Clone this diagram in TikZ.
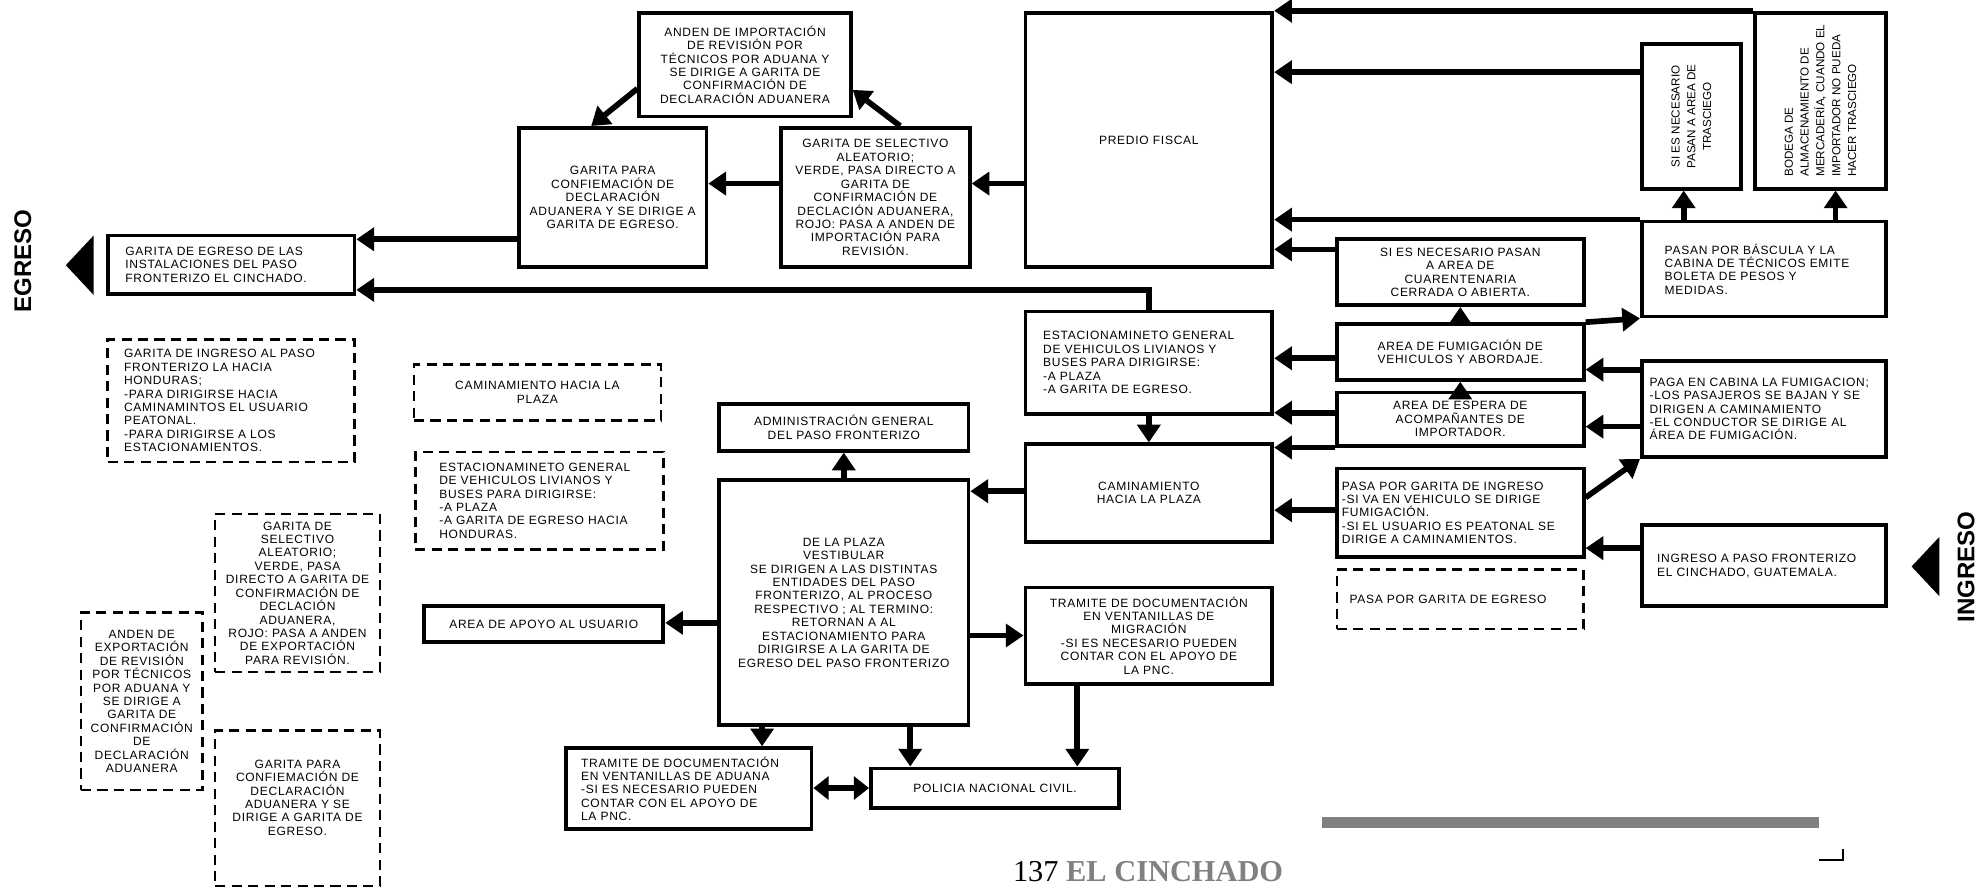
\documentclass[tikz,border=0pt]{standalone}
\usepackage{fontspec}
\setmainfont{Liberation Sans}
\newfontfamily\cajafont{Liberation Sans}[LetterSpace=6]
\newfontfamily\giradafont{Liberation Sans}
\newfontfamily\piefont{Liberation Serif}
\usetikzlibrary{arrows.meta}
\definecolor{gris}{HTML}{808080}

\begin{document}
\begin{tikzpicture}[x=1pt, y=-1pt,
	caja/.style={draw, line width=3pt, inner sep=2pt, align=center, font=\cajafont\fontsize{9.5}{10.6}\selectfont},
	cajaizq/.style={caja, align=left},
	cajapunto/.style={caja, line width=2pt, dash pattern=on 8pt off 5pt},
	girada/.style={caja, rotate=90, font=\giradafont\fontsize{9.2}{12.5}\selectfont},
	flecha/.style={line width=4.5pt, -{Triangle[length=14pt,width=18pt]}},
	doble/.style={line width=4.5pt, {Triangle[length=12pt,width=18pt]}-{Triangle[length=12pt,width=18pt]}},
	lema/.style={rotate=90, font=\giradafont\bfseries\fontsize{19}{19}\selectfont}]
	\fill[white] (0,0) rectangle (1568,701);
	\useasboundingbox (0,0) rectangle (1568,701);

	\node[caja, minimum width=167pt, minimum height=82pt] (anden) at (588.5,51) {ANDEN DE IMPORTACIÓN\\DE REVISIÓN POR\\TÉCNICOS POR ADUANA Y\\SE DIRIGE A GARITA DE\\CONFIRMACIÓN DE\\DECLARACIÓN ADUANERA};
	\node[caja, minimum width=148pt, minimum height=110pt] (conf) at (484,156) {GARITA PARA\\CONFIEMACIÓN DE\\DECLARACIÓN\\ADUANERA Y SE DIRIGE A\\GARITA DE EGRESO.};
	\node[caja, minimum width=149pt, minimum height=110pt] (sel) at (691.5,156) {GARITA DE SELECTIVO\\ALEATORIO;\\VERDE, PASA DIRECTO A\\GARITA DE\\CONFIRMACIÓN DE\\DECLACIÓN ADUANERA,\\ROJO: PASA A ANDEN DE\\IMPORTACIÓN PARA\\REVISIÓN.};
	\node[caja, minimum width=195pt, minimum height=201pt] (predio) at (907.5,110.5) {PREDIO FISCAL};
	\node[girada, minimum width=114pt, minimum height=78pt] (tras) at (1336,92) {SI ES NECESARIO\\PASAN A AREA DE\\TRASCIEGO};
	\node[girada, align=left, minimum width=139pt, minimum height=104pt] (bodega) at (1438,79.5) {BODEGA DE\\ALMACENAMIENTO DE\\MERCADERÍA, CUANDO EL\\IMPORTADOR NO PUEDA\\HACER TRASCIEGO};
	\node[cajaizq, text width=157pt, inner xsep=18pt, minimum height=75pt] (basc) at (1393.5,212.5) {PASAN POR BÁSCULA Y LA\\CABINA DE TÉCNICOS EMITE\\BOLETA DE PESOS Y\\MEDIDAS.};
	\node[caja, minimum width=195pt, minimum height=52pt] (cuar) at (1153.5,215) {SI ES NECESARIO PASAN\\A AREA DE\\CUARENTENARIA\\CERRADA O ABIERTA.};
	\node[cajaizq, text width=167pt, inner xsep=14pt, minimum height=46pt] (egr) at (182.5,209) {GARITA DE EGRESO DE LAS\\INSTALACIONES DEL PASO\\FRONTERIZO EL CINCHADO.};

	\node[cajaizq, text width=167pt, inner xsep=14pt, minimum height=81pt] (estac) at (907.5,286.5) {ESTACIONAMINETO GENERAL\\DE VEHICULOS LIVIANOS Y\\BUSES PARA DIRIGIRSE:\\-A PLAZA\\-A GARITA DE EGRESO.};
	\node[caja, minimum width=195pt, minimum height=44pt] (fumig) at (1153.5,278) {AREA DE FUMIGACIÓN DE\\VEHICULOS Y ABORDAJE.};
	\node[caja, minimum width=195pt, minimum height=42pt] (espera) at (1153.5,331) {AREA DE ESPERA DE\\ACOMPAÑANTES DE\\IMPORTADOR.};
	\node[cajaizq, text width=181pt, inner xsep=6pt, minimum height=76pt] (paga) at (1393.5,323) {PAGA EN CABINA LA FUMIGACION;\\-LOS PASAJEROS SE BAJAN Y SE\\DIRIGEN A CAMINAMIENTO\\-EL CONDUCTOR SE DIRIGE AL\\ÁREA DE FUMIGACIÓN.};
	\node[caja, minimum width=195pt, minimum height=77pt] (camin) at (907.5,389.5) {CAMINAMIENTO\\HACIA LA PLAZA};
	\node[cajaizq, text width=187pt, inner xsep=4pt, minimum height=70pt] (ingr) at (1153.5,405) {PASA POR GARITA DE INGRESO\\-SI VA EN VEHICULO SE DIRIGE\\FUMIGACIÓN.\\-SI EL USUARIO ES PEATONAL SE\\DIRIGE A CAMINAMIENTOS.};
	\node[cajaizq, text width=169pt, inner xsep=12pt, minimum height=64pt] (ingfr) at (1393.5,447) {INGRESO A PASO FRONTERIZO\\EL CINCHADO, GUATEMALA.};
	\node[cajapunto, align=left, text width=175pt, inner xsep=10pt, minimum height=47pt] (egrd) at (1153.5,473.5) {PASA POR GARITA DE EGRESO};

	\node[cajapunto, align=left, text width=169pt, inner xsep=13pt, minimum height=97pt] (gid) at (182.5,316.5) {GARITA DE INGRESO AL PASO\\FRONTERIZO LA HACIA\\HONDURAS;\\-PARA DIRIGIRSE HACIA\\CAMINAMINTOS EL USUARIO\\PEATONAL.\\-PARA DIRIGIRSE A LOS\\ESTACIONAMIENTOS.};
	\node[cajapunto, minimum width=195pt, minimum height=44pt] (camd) at (424.5,310) {CAMINAMIENTO HACIA LA\\PLAZA};
	\node[cajapunto, align=left, text width=158pt, inner xsep=19pt, minimum height=77pt] (estd) at (426,395.5) {ESTACIONAMINETO GENERAL\\DE VEHICULOS LIVIANOS Y\\BUSES PARA DIRIGIRSE:\\-A PLAZA\\-A GARITA DE EGRESO HACIA\\HONDURAS.};
	\node[cajapunto, minimum width=130pt, minimum height=125pt] (seld) at (235,468.5) {GARITA DE\\SELECTIVO\\ALEATORIO;\\VERDE, PASA\\DIRECTO A GARITA DE\\CONFIRMACIÓN DE\\DECLACIÓN\\ADUANERA,\\ROJO: PASA A ANDEN\\DE EXPORTACIÓN\\PARA REVISIÓN.};
	\node[cajapunto, minimum width=96pt, minimum height=140pt] (andd) at (112,554) {ANDEN DE\\EXPORTACIÓN\\DE REVISIÓN\\POR TÉCNICOS\\POR ADUANA Y\\SE DIRIGE A\\GARITA DE\\CONFIRMACIÓN\\DE\\DECLARACIÓN\\ADUANERA};
	\node[cajapunto, minimum width=130pt, minimum height=123pt, text depth=17pt] (confd) at (235,638.5) {GARITA PARA\\CONFIEMACIÓN DE\\DECLARACIÓN\\ADUANERA Y SE\\DIRIGE A GARITA DE\\EGRESO.};

	\node[caja, minimum width=197pt, minimum height=37pt] (admin) at (666.5,337.5) {ADMINISTRACIÓN GENERAL\\DEL PASO FRONTERIZO};
	\node[caja, minimum width=197pt, minimum height=194pt] (plaza) at (666.5,476) {DE LA PLAZA\\VESTIBULAR\\SE DIRIGEN A LAS DISTINTAS\\ENTIDADES DEL PASO\\FRONTERIZO, AL PROCESO\\RESPECTIVO ; AL TERMINO:\\RETORNAN A AL\\ESTACIONAMIENTO PARA\\DIRIGIRSE A LA GARITA DE\\EGRESO DEL PASO FRONTERIZO};
	\node[caja, minimum width=189pt, minimum height=28pt] (apoyo) at (429.5,493) {AREA DE APOYO AL USUARIO};
	\node[caja, minimum width=195pt, minimum height=76pt] (migr) at (907.5,502) {TRAMITE DE DOCUMENTACIÓN\\EN VENTANILLAS DE\\MIGRACIÓN\\-SI ES NECESARIO PUEDEN\\CONTAR CON EL APOYO DE\\LA PNC.};
	\node[cajaizq, text width=170pt, inner xsep=12pt, minimum height=64pt] (adu) at (544,623) {TRAMITE DE DOCUMENTACIÓN\\EN VENTANILLAS DE ADUANA\\-SI ES NECESARIO PUEDEN\\CONTAR CON EL APOYO DE\\LA PNC.};
	\node[caja, minimum width=196pt, minimum height=31pt] (pnc) at (786,622.5) {POLICIA NACIONAL CIVIL.};

	\node[lema] (egreso) at (18,206) {EGRESO};
	\node[lema] (ingreso) at (1553,448) {INGRESO};
	\fill (52,209.5) -- (74,186) -- (74,233) -- cycle;
	\fill (1510,447.5) -- (1532,424) -- (1532,471) -- cycle;

	\draw[flecha] (predio.west |- 0,145) -- (sel.east |- 0,145);
	\draw[flecha] (sel.west |- 0,145) -- (conf.east |- 0,145);
	\draw[flecha] (711,0 |- sel.north) -- (anden.east |- 0,71);
	\draw[flecha] (anden.west |- 0,70) -- (467,0 |- conf.north);
	\draw[flecha] (conf.west |- 0,189) -- (egr.east |- 0,189);
	\draw[flecha] (estac.north) -- (estac.north |- 0,229) -- (egr.east |- 0,229);
	\draw[flecha] (bodega.north east) -- (predio.north east);
	\draw[flecha] (tras.north |- 0,57) -- (predio.east |- 0,57);
	\draw[flecha] (basc.north west) -- (predio.east |- basc.north west);
	\draw[flecha] (cuar.west |- 0,197) -- (predio.east |- 0,197);
	\draw[flecha] (1330,0 |- basc.north) -- (1330,0 |- tras.west);
	\draw[flecha] (1450,0 |- basc.north) -- (1450,0 |- bodega.west);
	\draw[flecha] (cuar.south |- fumig.north) -- (cuar.south);
	\draw[flecha] (fumig.north east) -- (basc.south west);
	\draw[flecha] (fumig.west |- 0,283) -- (estac.east |- 0,283);
	\draw[flecha] (espera.north) -- (fumig.south);
	\draw[flecha] (espera.west |- 0,326) -- (estac.east |- 0,326);
	\draw[flecha] (espera.south west) -- (camin.east |- espera.south west);
	\draw[flecha] (paga.west |- 0,292) -- (fumig.east |- 0,292);
	\draw[flecha] (paga.west |- 0,337) -- (espera.east |- 0,337);
	\draw[flecha] (ingr.east |- 0,393) -- (paga.south west);
	\draw[flecha] (ingfr.west |- 0,433) -- (ingr.east |- 0,433);
	\draw[flecha] (ingr.west |- 0,403) -- (camin.east |- 0,403);
	\draw[flecha] (estac.south) -- (camin.north);
	\draw[flecha] (camin.west |- 0,388) -- (plaza.east |- 0,388);
	\draw[flecha] (plaza.north) -- (admin.south);
	\draw[flecha] (plaza.west |- 0,492) -- (apoyo.east |- 0,492);
	\draw[flecha] (plaza.east |- 0,502) -- (migr.west |- 0,502);
	\draw[flecha] (602,0 |- plaza.south) -- (602,0 |- adu.north);
	\draw[flecha] (719,0 |- plaza.south) -- (719,0 |- pnc.north);
	\draw[flecha] (851,0 |- migr.south) -- (851,0 |- pnc.north);
	\draw[doble] (adu.east |- 0,622.5) -- (pnc.west |- 0,622.5);

	\fill[gris] (1044,645) rectangle (1437,654);
	\draw[line width=1.5pt] (1437,679) -- (1456,679) -- (1456,671);
	\node[anchor=base west, inner sep=0pt, font=\piefont\fontsize{24}{26}\selectfont] (pie) at (800,696) {137 \textcolor{gris}{\bfseries EL CINCHADO}};
\end{tikzpicture}
\end{document}
